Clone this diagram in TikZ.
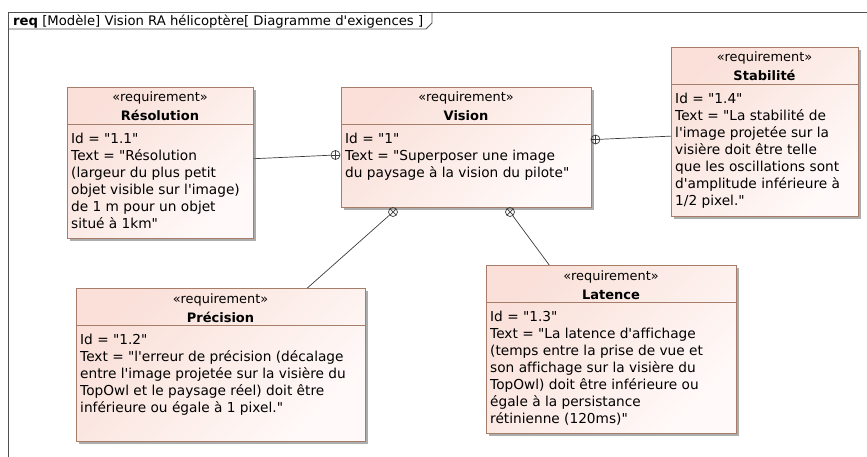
\documentclass[tikz,border=0pt]{standalone}
\usepackage{fontspec}
\setmainfont{DejaVu Sans}[Ligatures={TeXOff,CommonOff}]
\usetikzlibrary{shadows}
\definecolor{reqpink}{RGB}{250,224,217}
\definecolor{reqend}{RGB}{255,250,249}
\definecolor{reqborder}{RGB}{165,125,105}
\definecolor{lin}{RGB}{60,60,60}
\definecolor{framec}{RGB}{80,80,80}
\tikzset{
  reqbox/.style={draw=reqborder, line width=0.9pt, anchor=north west, inner sep=0pt,
    top color=reqpink, bottom color=reqend, shading angle=45,
    drop shadow={shadow xshift=3pt, shadow yshift=-3pt, fill=black!32, opacity=1}},
  sepline/.style={draw=reqborder, line width=0.9pt},
  stereo/.style={font=\fontsize{12.9}{15}\selectfont, anchor=base, inner sep=0pt},
  rname/.style={font=\fontsize{13}{16}\bfseries\selectfont, anchor=base, inner sep=0pt},
  body/.style={font=\fontsize{13.7}{17}\selectfont, anchor=north west, align=left, inner sep=0pt},
  conn/.style={draw=lin, line width=0.7pt},
  pluscirc/.style={circle, draw=lin, line width=0.7pt, minimum size=9pt, inner sep=0pt,
    path picture={\draw[lin, line width=0.7pt] (path picture bounding box.north) -- (path picture bounding box.south)
      (path picture bounding box.west) -- (path picture bounding box.east);}},
  xcirc/.style={circle, draw=lin, line width=0.7pt, minimum size=9pt, inner sep=0pt,
    path picture={\draw[lin, line width=0.7pt] (path picture bounding box.north west) -- (path picture bounding box.south east)
      (path picture bounding box.south west) -- (path picture bounding box.north east);}},
  frameline/.style={draw=framec, line width=0.8pt},
  hdr/.style={font=\fontsize{13.2}{16}\selectfont, anchor=base west, inner sep=0pt}
}
\begin{document}
\begin{tikzpicture}[x=1pt, y=-1pt]
\useasboundingbox (0,0) rectangle (867,457);
% frame
\draw[frameline] (8,470) -- (8,12) -- (880,12);
\draw[frameline] (432,12) -- (432,23) -- (426,29) -- (8,29);
\node[hdr] (hdr) at (13,25.5) {\textbf{req} [Modèle] Vision RA hélicoptère[ Diagramme d'exigences ]};

% Resolution
\node[reqbox, minimum width=186pt, minimum height=151pt] (res) at (67,87) {};
\draw[sepline] (67,124.5) -- (253,124.5);
\node[stereo] (resst) at (160,102) {«requirement»};
\node[rname] (resnm) at (160,121) {Résolution};
\node[body] (resbd) at (71,132.6) {Id = "1.1"\\Text = "Résolution\\(largeur du plus petit\\objet visible sur l'image)\\de 1 m pour un objet\\situé à 1km"};

% Vision
\node[reqbox, minimum width=250pt, minimum height=120pt] (vis) at (341,87) {};
\draw[sepline] (341,124.5) -- (591,124.5);
\node[stereo] (visst) at (466,102) {«requirement»};
\node[rname] (visnm) at (466,121) {Vision};
\node[body] (visbd) at (345,132.6) {Id = "1"\\Text = "Superposer une image\\du paysage à la vision du pilote"};

% Stabilite
\node[reqbox, minimum width=187pt, minimum height=169pt] (stab) at (671,47) {};
\draw[sepline] (671,84.5) -- (858,84.5);
\node[stereo] (stabst) at (764.5,62) {«requirement»};
\node[rname] (stabnm) at (764.5,81) {Stabilité};
\node[body] (stabbd) at (675,92.6) {Id = "1.4"\\Text = "La stabilité de\\l'image projetée sur la\\visière doit être telle\\que les oscillations sont\\d'amplitude inférieure à\\1/2 pixel."};

% Precision
\node[reqbox, minimum width=289pt, minimum height=153pt] (pre) at (76,288) {};
\draw[sepline] (76,325.5) -- (365,325.5);
\node[stereo] (prest) at (220.5,303) {«requirement»};
\node[rname] (prenm) at (220.5,322) {Précision};
\node[body] (prebd) at (80,333.6) {Id = "1.2"\\Text = "l'erreur de précision (décalage\\entre l'image projetée sur la visière du\\TopOwl et le paysage réel) doit être\\inférieure ou égale à 1 pixel."};

% Latence
\node[reqbox, minimum width=250pt, minimum height=168pt] (lat) at (486,265) {};
\draw[sepline] (486,302.5) -- (736,302.5);
\node[stereo] (latst) at (611,280) {«requirement»};
\node[rname] (latnm) at (611,299) {Latence};
\node[body] (latbd) at (490,310.6) {Id = "1.3"\\Text = "La latence d'affichage\\(temps entre la prise de vue et\\son affichage sur la visière du\\TopOwl) doit être inférieure ou\\égale à la persistance\\rétinienne (120ms)"};

% containment markers
\node[pluscirc] (c1) at (335.5,155) {};
\node[pluscirc] (c2) at (595.5,139.5) {};
\node[xcirc] (c3) at (393,212) {};
\node[xcirc] (c4) at (510,212) {};

\draw[conn] (c1) -- (res);
\draw[conn] (c2) -- (stab);
\draw[conn] (c3) -- (pre);
\draw[conn] (c4) -- (lat);
\end{tikzpicture}
\end{document}
